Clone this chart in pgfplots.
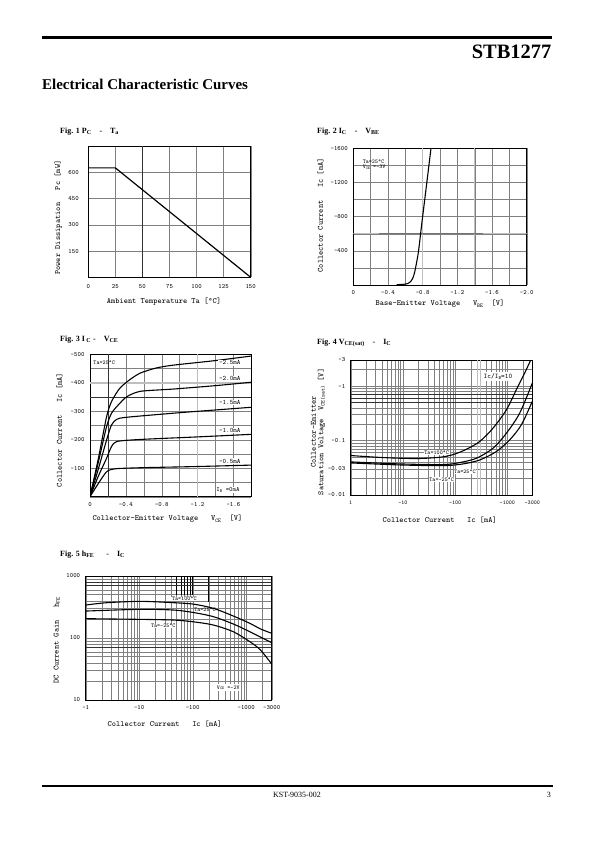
\documentclass[border=0pt]{standalone}
\usepackage{fontspec}
\setmainfont{Liberation Serif}
\usepackage{pgfplots}
\pgfplotsset{compat=1.18}
\newcommand{\sub}[1]{\raisebox{-0.35ex}{\scalebox{0.7}{#1}}}
\pgfplotsset{
 ds/.style={
  scale only axis,
  axis line style={line width=0.6pt},
  grid=both,
  major grid style={black!50,line width=0.35pt},
  minor grid style={black!50,line width=0.35pt},
  major tick length=0pt, minor tick length=0pt,
  ticklabel style={font=\fontsize{6.5}{7}\selectfont\ttfamily},
  label style={font=\fontsize{8}{8.5}\selectfont\ttfamily},
  xticklabel style={yshift=-2pt},
  yticklabel style={xshift=-2pt},
 },
 curve/.style={black, line width=1.1pt, no marks},
}
\tikzset{
 figt/.style={anchor=base west, font=\bfseries\fontsize{8}{9}\selectfont, inner sep=0pt},
 ann/.style={font=\fontsize{5.8}{6.2}\selectfont\ttfamily, inner sep=0.6pt},
 annw/.style={ann, fill=white},
}
\begin{document}
\begin{tikzpicture}
\fill[white] (0,0) rectangle (595bp,-842bp);
\path[use as bounding box] (0,0) rectangle (595bp,-842bp);
% header
\fill[black] (41.7bp,-35.7bp) rectangle (551.7bp,-39.3bp);
\node[anchor=base east, inner sep=0pt, font=\bfseries\fontsize{20.5}{22}\selectfont] at (551.5bp,-58bp) {STB1277};
\node[anchor=base west, inner sep=0pt, font=\bfseries\fontsize{15}{17}\selectfont] at (42bp,-89bp) {Electrical Characteristic Curves};
% footer
\draw[line width=1.5pt] (42bp,-786bp) -- (552.5bp,-786bp);
\node[anchor=base, inner sep=0pt, font=\fontsize{8}{9}\selectfont] at (297bp,-797.5bp) {KST-9035-002};
\node[anchor=base east, inner sep=0pt, font=\fontsize{8}{9}\selectfont] at (551bp,-797.5bp) {3};
% titles
\node[figt] at (60bp,-133.5bp) {Fig. 1 P\textsubscript{C}\quad -\quad T\textsubscript{a}};
\node[figt] at (317bp,-133.5bp) {Fig. 2 I\textsubscript{C}\quad -\quad V\textsubscript{BE}};
\node[figt] at (60bp,-341bp) {Fig. 3 I\,\textsubscript{C} -\quad V\textsubscript{CE}};
\node[figt] at (317bp,-344bp) {Fig. 4 V\textsubscript{CE(sat)}\quad -\quad I\textsubscript{C}};
\node[figt] at (60bp,-556bp) {Fig. 5 h\textsubscript{FE}\quad\ \ -\quad I\textsubscript{C}};

% ---------------- Fig 1
\begin{axis}[ds, at={(88.3bp,-277.3bp)}, anchor=south west, width=162.4bp, height=131.3bp,
  xmin=0, xmax=150, ymin=0, ymax=750,
  xtick={0,25,50,75,100,125,150}, xticklabels={0,25,50,75,100,125,150},
  ytick={0,150,300,450,600,750}, yticklabels={,150,300,450,600,},
  xlabel={Ambient Temperature Ta [\textdegree C]},
  ylabel={Power Dissipation\ \ \ Pc [mW]},
  xlabel style={at={(axis description cs:0.466,-0.186)}, anchor=center},
  ylabel style={at={(axis description cs:-0.185,0.455)}, anchor=center},
  xticklabel style={yshift=-2pt}, yticklabel style={xshift=-4pt}]
\draw[black!80, line width=0.7pt] (axis cs:50,0) -- (axis cs:50,750);
\addplot[curve, line width=1.2pt] coordinates {(0,625) (25,625) (150,0)};
\end{axis}

% ---------------- Fig 2
\begin{axis}[ds, at={(353.3bp,-285bp)}, anchor=south west, width=173.4bp, height=136.7bp,
  xmin=0, xmax=2, ymin=0, ymax=1600,
  xtick={0,0.4,0.8,1.2,1.6,2.0}, xticklabels={0,-0.4,-0.8,-1.2,-1.6,-2.0},
  ytick={0,400,800,1200,1600}, yticklabels={,-400,-800,-1200,-1600},
  minor x tick num=1, minor y tick num=1,
  xlabel={Base-Emitter Voltage\ \ \ V\sub{BE}\ \ [V]},
  ylabel={Collector Current\ \ \ Ic [mA]},
  xlabel style={at={(axis description cs:0.5,-0.14)}, anchor=center},
  ylabel style={at={(axis description cs:-0.19,0.51)}, anchor=center},
  yticklabel style={xshift=0pt}]
\draw[black!25, line width=1.6pt] (axis cs:0.8,0) -- (axis cs:0.8,1600);
\draw[black!25, line width=1.6pt] (axis cs:1.4,0) -- (axis cs:1.4,1600);
\draw[black!25, line width=1.4pt] (axis cs:0,600) -- (axis cs:2,600);
\draw[black!55, line width=1.4pt] (axis cs:0.3,600) -- (axis cs:1.5,600);
\addplot[curve, smooth, tension=0.4] coordinates {(0.5,4) (0.58,8) (0.63,18) (0.665,45) (0.69,90) (0.71,160) (0.75,380) (0.79,720) (0.83,1050) (0.865,1340) (0.896,1600)};
\node[ann, anchor=west] at (axis cs:0.1,1443) {Ta=25\textdegree C};
\node[ann, anchor=west] at (axis cs:0.1,1380) {V\sub{CE} =-3V};
\end{axis}

% ---------------- Fig 3
\begin{axis}[ds, at={(90bp,-496.7bp)}, anchor=south west, width=161.3bp, height=142.4bp,
  xmin=0, xmax=1.8, ymin=0, ymax=500,
  xtick={0,0.4,0.8,1.2,1.6}, xticklabels={0,-0.4,-0.8,-1.2,-1.6},
  ytick={0,100,200,300,400,500}, yticklabels={,-100,-200,-300,-400,-500},
  minor x tick num=1, minor y tick num=1,
  xlabel={Collector-Emitter Voltage\ \ \ V\sub{CE}\ \ [V]},
  ylabel={Collector Current\ \ \ Ic [mA]},
  xlabel style={at={(axis description cs:0.48,-0.157)}, anchor=center},
  ylabel style={at={(axis description cs:-0.19,0.468)}, anchor=center}]
\draw[black!25, line width=1.6pt] (axis cs:1.2,0) -- (axis cs:1.2,500);
\draw[black!25, line width=1.6pt] (axis cs:0,400) -- (axis cs:1.8,400);
\draw[black!80, line width=0.6pt] (axis cs:0.2,0) -- (axis cs:0.2,500);
\draw[black!80, line width=0.6pt] (axis cs:0,350) -- (axis cs:1.8,350);
\addplot[curve, smooth, tension=0.4] coordinates {(0,0) (0.1,50) (0.18,86) (0.23,95) (0.32,99) (0.6,102) (1.2,106) (1.8,111)};
\addplot[curve, smooth, tension=0.4] coordinates {(0,0) (0.09,70) (0.185,135) (0.24,176) (0.3,194) (0.56,201) (1.2,210) (1.8,219)};
\addplot[curve, smooth, tension=0.4] coordinates {(0,0) (0.09,94) (0.185,199) (0.24,252) (0.3,272) (0.41,279) (1.0,295) (1.8,314)};
\addplot[curve, smooth, tension=0.4] coordinates {(0,0) (0.09,117) (0.185,246) (0.24,293) (0.315,322) (0.41,351) (0.56,370) (0.93,378) (1.4,390) (1.8,402)};
\addplot[curve, smooth, tension=0.4] coordinates {(0,0) (0.09,129) (0.185,281) (0.24,334) (0.33,380) (0.44,410) (0.56,434) (0.74,452) (0.93,462) (1.4,478) (1.8,494)};
\node[ann, anchor=west] at (axis cs:0.03,472) {Ta=25\textdegree C};
\node[annw, font=\fontsize{6.8}{7}\selectfont\ttfamily] at (axis cs:1.56,470) {-2.5mA};
\node[annw, font=\fontsize{6.8}{7}\selectfont\ttfamily] at (axis cs:1.56,414) {-2.0mA};
\node[annw, font=\fontsize{6.8}{7}\selectfont\ttfamily] at (axis cs:1.56,330) {-1.5mA};
\node[annw, font=\fontsize{6.8}{7}\selectfont\ttfamily] at (axis cs:1.56,233) {-1.0mA};
\node[annw, font=\fontsize{6.8}{7}\selectfont\ttfamily] at (axis cs:1.56,125) {-0.5mA};
\node[annw, font=\fontsize{6.5}{7}\selectfont\ttfamily] at (axis cs:1.54,23.5) {I\sub{B} =0mA};
\end{axis}

% ---------------- Fig 4
\begin{axis}[ds, at={(350.7bp,-495bp)}, anchor=south west, width=181.6bp, height=135bp,
  xmode=log, ymode=log, xmin=1, xmax=3000, ymin=0.01, ymax=3,
  xtick={1,10,100,1000,3000}, xticklabels={1,-10,-100,-1000,-3000},
  ytick={0.01,0.03,0.1,1,3}, yticklabels={-0.01,-0.03,-0.1,-1,-3},
  minor xtick={2,3,4,5,6,7,8,9,20,30,40,50,60,70,80,90,200,300,400,500,600,700,800,900,2000},
  minor ytick={0.02,0.04,0.05,0.06,0.07,0.08,0.09,0.2,0.3,0.4,0.5,0.6,0.7,0.8,0.9,2},
  xticklabel style={font=\fontsize{5.8}{6}\selectfont\ttfamily},
  xlabel={Collector Current\ \ \ Ic [mA]},
  ylabel={Collector-Emitter\\Saturation Voltage\ \ V\sub{CE(sat)} [V]},
  xlabel style={at={(axis description cs:0.49,-0.185)}, anchor=center},
  ylabel style={at={(axis description cs:-0.18,0.467)}, anchor=center, align=center, font=\fontsize{8}{7.5}\selectfont\ttfamily}]
\draw[black!25, line width=1.2pt] (axis cs:270,0.01) -- (axis cs:270,3);
\draw[black!25, line width=1.2pt] (axis cs:310,0.01) -- (axis cs:310,3);
\draw[black!80, line width=0.5pt] (axis cs:1,0.5) -- (axis cs:3000,0.5);
\draw[black!80, line width=0.5pt] (axis cs:1,0.6) -- (axis cs:3000,0.6);
\draw[black!80, line width=0.5pt] (axis cs:1,0.7) -- (axis cs:3000,0.7);
\addplot[curve, smooth, tension=0.5] coordinates {(1,0.053) (4.2,0.0486) (18.2,0.0467) (50.9,0.0493) (91.6,0.0552) (165,0.0692) (296,0.096) (532,0.169) (957,0.366) (1486,0.857) (2143,1.73) (2800,3)};
\addplot[curve, smooth, tension=0.5] coordinates {(1,0.0405) (8.8,0.0372) (58.9,0.0362) (122,0.0394) (256,0.0473) (532,0.0723) (957,0.136) (1721,0.318) (3000,1.135)};
\addplot[curve, smooth, tension=0.5] coordinates {(1,0.0388) (8.8,0.0356) (58.9,0.0346) (142,0.0372) (296,0.044) (616,0.0628) (1110,0.103) (1850,0.194) (3000,0.522)};
\node[annw, font=\fontsize{7}{7.5}\selectfont\ttfamily, inner sep=1.5pt] at (axis cs:661,1.48) {Ic/I\sub{B}=10};
\node[annw] at (axis cs:44.3,0.0607) {Ta=100\textdegree C};
\node[annw] at (axis cs:154,0.0268) {Ta=25\textdegree C};
\node[annw] at (axis cs:55.2,0.0194) {Ta=-25\textdegree C};
\end{axis}

% ---------------- Fig 5
\begin{axis}[ds, at={(85.7bp,-700bp)}, anchor=south west, width=186bp, height=124bp,
  xmode=log, ymode=log, xmin=1, xmax=3000, ymin=10, ymax=1000,
  xtick={1,10,100,1000,3000}, xticklabels={-1,-10,-100,-1000,-3000},
  ytick={10,100,1000}, yticklabels={10,100,1000},
  minor xtick={2,3,4,5,6,7,8,9,20,30,40,50,60,70,80,90,200,300,400,500,600,700,800,900,2000},
  minor ytick={20,30,40,50,60,70,80,90,200,300,400,500,600,700,800,900},
  xlabel={Collector Current\ \ \ Ic [mA]},
  ylabel={DC Current Gain\ \ \ h\sub{FE}},
  xlabel style={at={(axis description cs:0.425,-0.19)}, anchor=center},
  ylabel style={at={(axis description cs:-0.155,0.48)}, anchor=center}]
\draw[black, line width=0.6pt] (axis cs:50,1000) -- (axis cs:50,490);
\draw[black, line width=0.6pt] (axis cs:60,1000) -- (axis cs:60,490);
\draw[black, line width=0.6pt] (axis cs:70,1000) -- (axis cs:70,490);
\draw[black, line width=0.6pt] (axis cs:80,1000) -- (axis cs:80,490);
\draw[black, line width=0.6pt] (axis cs:90,1000) -- (axis cs:90,490);
\draw[black, line width=0.6pt] (axis cs:100,1000) -- (axis cs:100,490);
\draw[black, line width=0.6pt] (axis cs:200,1000) -- (axis cs:200,385);
\draw[black!80, line width=0.5pt] (axis cs:1,700) -- (axis cs:3000,700);
\draw[black!80, line width=0.5pt] (axis cs:1,800) -- (axis cs:3000,800);
\draw[black!80, line width=0.5pt] (axis cs:1,70) -- (axis cs:3000,70);
\addplot[curve, smooth, tension=0.5] coordinates {(1,340) (2.47,371) (10,390) (32.6,376) (100,353) (243,301) (577,226) (1177,172) (1856,140) (3000,119)};
\addplot[curve, smooth, tension=0.5] coordinates {(1,272) (10,290) (43,283) (100,259) (243,221) (577,168) (1177,126) (3000,84)};
\addplot[curve, smooth, tension=0.5] coordinates {(1,205) (10,200) (43,195) (100,183) (243,162) (577,126) (1177,87) (1856,64) (3000,38)};
\node[annw] at (axis cs:69.7,426) {Ta=100\textdegree C};
\node[ann] at (axis cs:170,290) {Ta=25\textdegree C};
\node[annw] at (axis cs:28.2,156) {Ta=-25\textdegree C};
\node[annw, inner sep=1.5pt] at (axis cs:463,15.8) {V\sub{CE} =-2V};
\end{axis}
\end{tikzpicture}
\end{document}
